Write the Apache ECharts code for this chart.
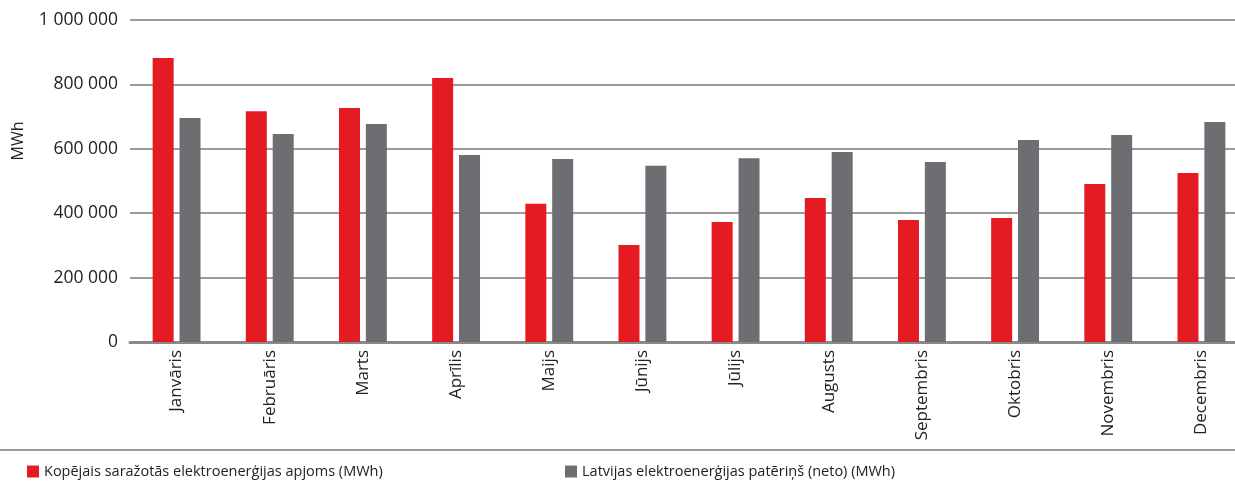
<!DOCTYPE html>
<html>
<head>
<meta charset="utf-8">
<script src="https://cdn.jsdelivr.net/npm/echarts@6/dist/echarts.min.js"></script>
<style>
html,body{margin:0;padding:0;background:#fff;overflow:hidden;width:1235px;height:482px;}
#chart{width:1248px;height:482px;}
</style>
</head>
<body>
<div id="chart"></div>
<script>
const categories = ['Janvāris','Februāris','Marts','Aprīlis','Maijs','Jūnijs','Jūlijs','Augusts','Septembris','Oktobris','Novembris','Decembris'];
const seriesNames = ['Kopējais saražotās elektroenerģijas apjoms (MWh)','Latvijas elektroenerģijas patēriņš (neto) (MWh)'];
const produced = [882000, 717000, 727000, 820000, 429000, 301000, 373000, 447000, 379000, 385000, 491000, 525000];
const consumed = [696000, 646000, 677000, 581000, 568000, 547000, 571000, 590000, 559000, 627000, 643000, 683000];
const yAxisTitle = 'MWh';

const FONT = 'Open Sans';
const chart = echarts.init(document.getElementById('chart'));
function fmt(v){ return String(v).replace(/\B(?=(\d{3})+(?!\d))/g, ' '); }

chart.setOption({
  animation: false,
  textStyle: {fontFamily: FONT},
  grid: {left: 130, right: 0, top: 20, bottom: 140, containLabel: false},
  legend: [
    {data: [seriesNames[0]], left: 27, top: 464, padding: 0, itemWidth: 12, itemHeight: 12, icon: 'rect', itemGap: 0,
     textStyle: {fontFamily: FONT, fontSize: 14.5, color: '#222'}},
    {data: [seriesNames[1]], left: 565, top: 464, padding: 0, itemWidth: 12, itemHeight: 12, icon: 'rect', itemGap: 0,
     textStyle: {fontFamily: FONT, fontSize: 14.5, color: '#222'}}
  ],
  xAxis: {
    type: 'category',
    data: categories,
    axisTick: {show: false},
    axisLine: {show: true, lineStyle: {color: '#8a8a8a', width: 3}},
    axisLabel: {rotate: 90, margin: 8, fontSize: 17, color: '#222', fontFamily: FONT}
  },
  yAxis: {
    type: 'value',
    min: 0, max: 1000000, interval: 200000,
    axisLine: {show: false},
    axisTick: {show: false},
    axisLabel: {formatter: fmt, fontSize: 17.5, color: '#222', margin: 12, fontFamily: FONT},
    splitLine: {lineStyle: {color: '#9a9a9a', width: 2}}
  },
  graphic: [
    {type: 'line', shape: {x1: 0, y1: 450, x2: 1248, y2: 450}, style: {stroke: '#9a9a9a', lineWidth: 2}},
    {type: 'text', x: 18, y: 141, rotation: Math.PI / 2,
     style: {text: yAxisTitle, fontFamily: FONT, fontSize: 16, fill: '#222', align: 'center', verticalAlign: 'middle'}}
  ],
  series: [
    {name: seriesNames[0], type: 'bar', data: produced, barWidth: 21, barGap: '28%', itemStyle: {color: '#e51b24'}},
    {name: seriesNames[1], type: 'bar', data: consumed, barWidth: 21, itemStyle: {color: '#6d6e71'}}
  ]
});
</script>
</body>
</html>
